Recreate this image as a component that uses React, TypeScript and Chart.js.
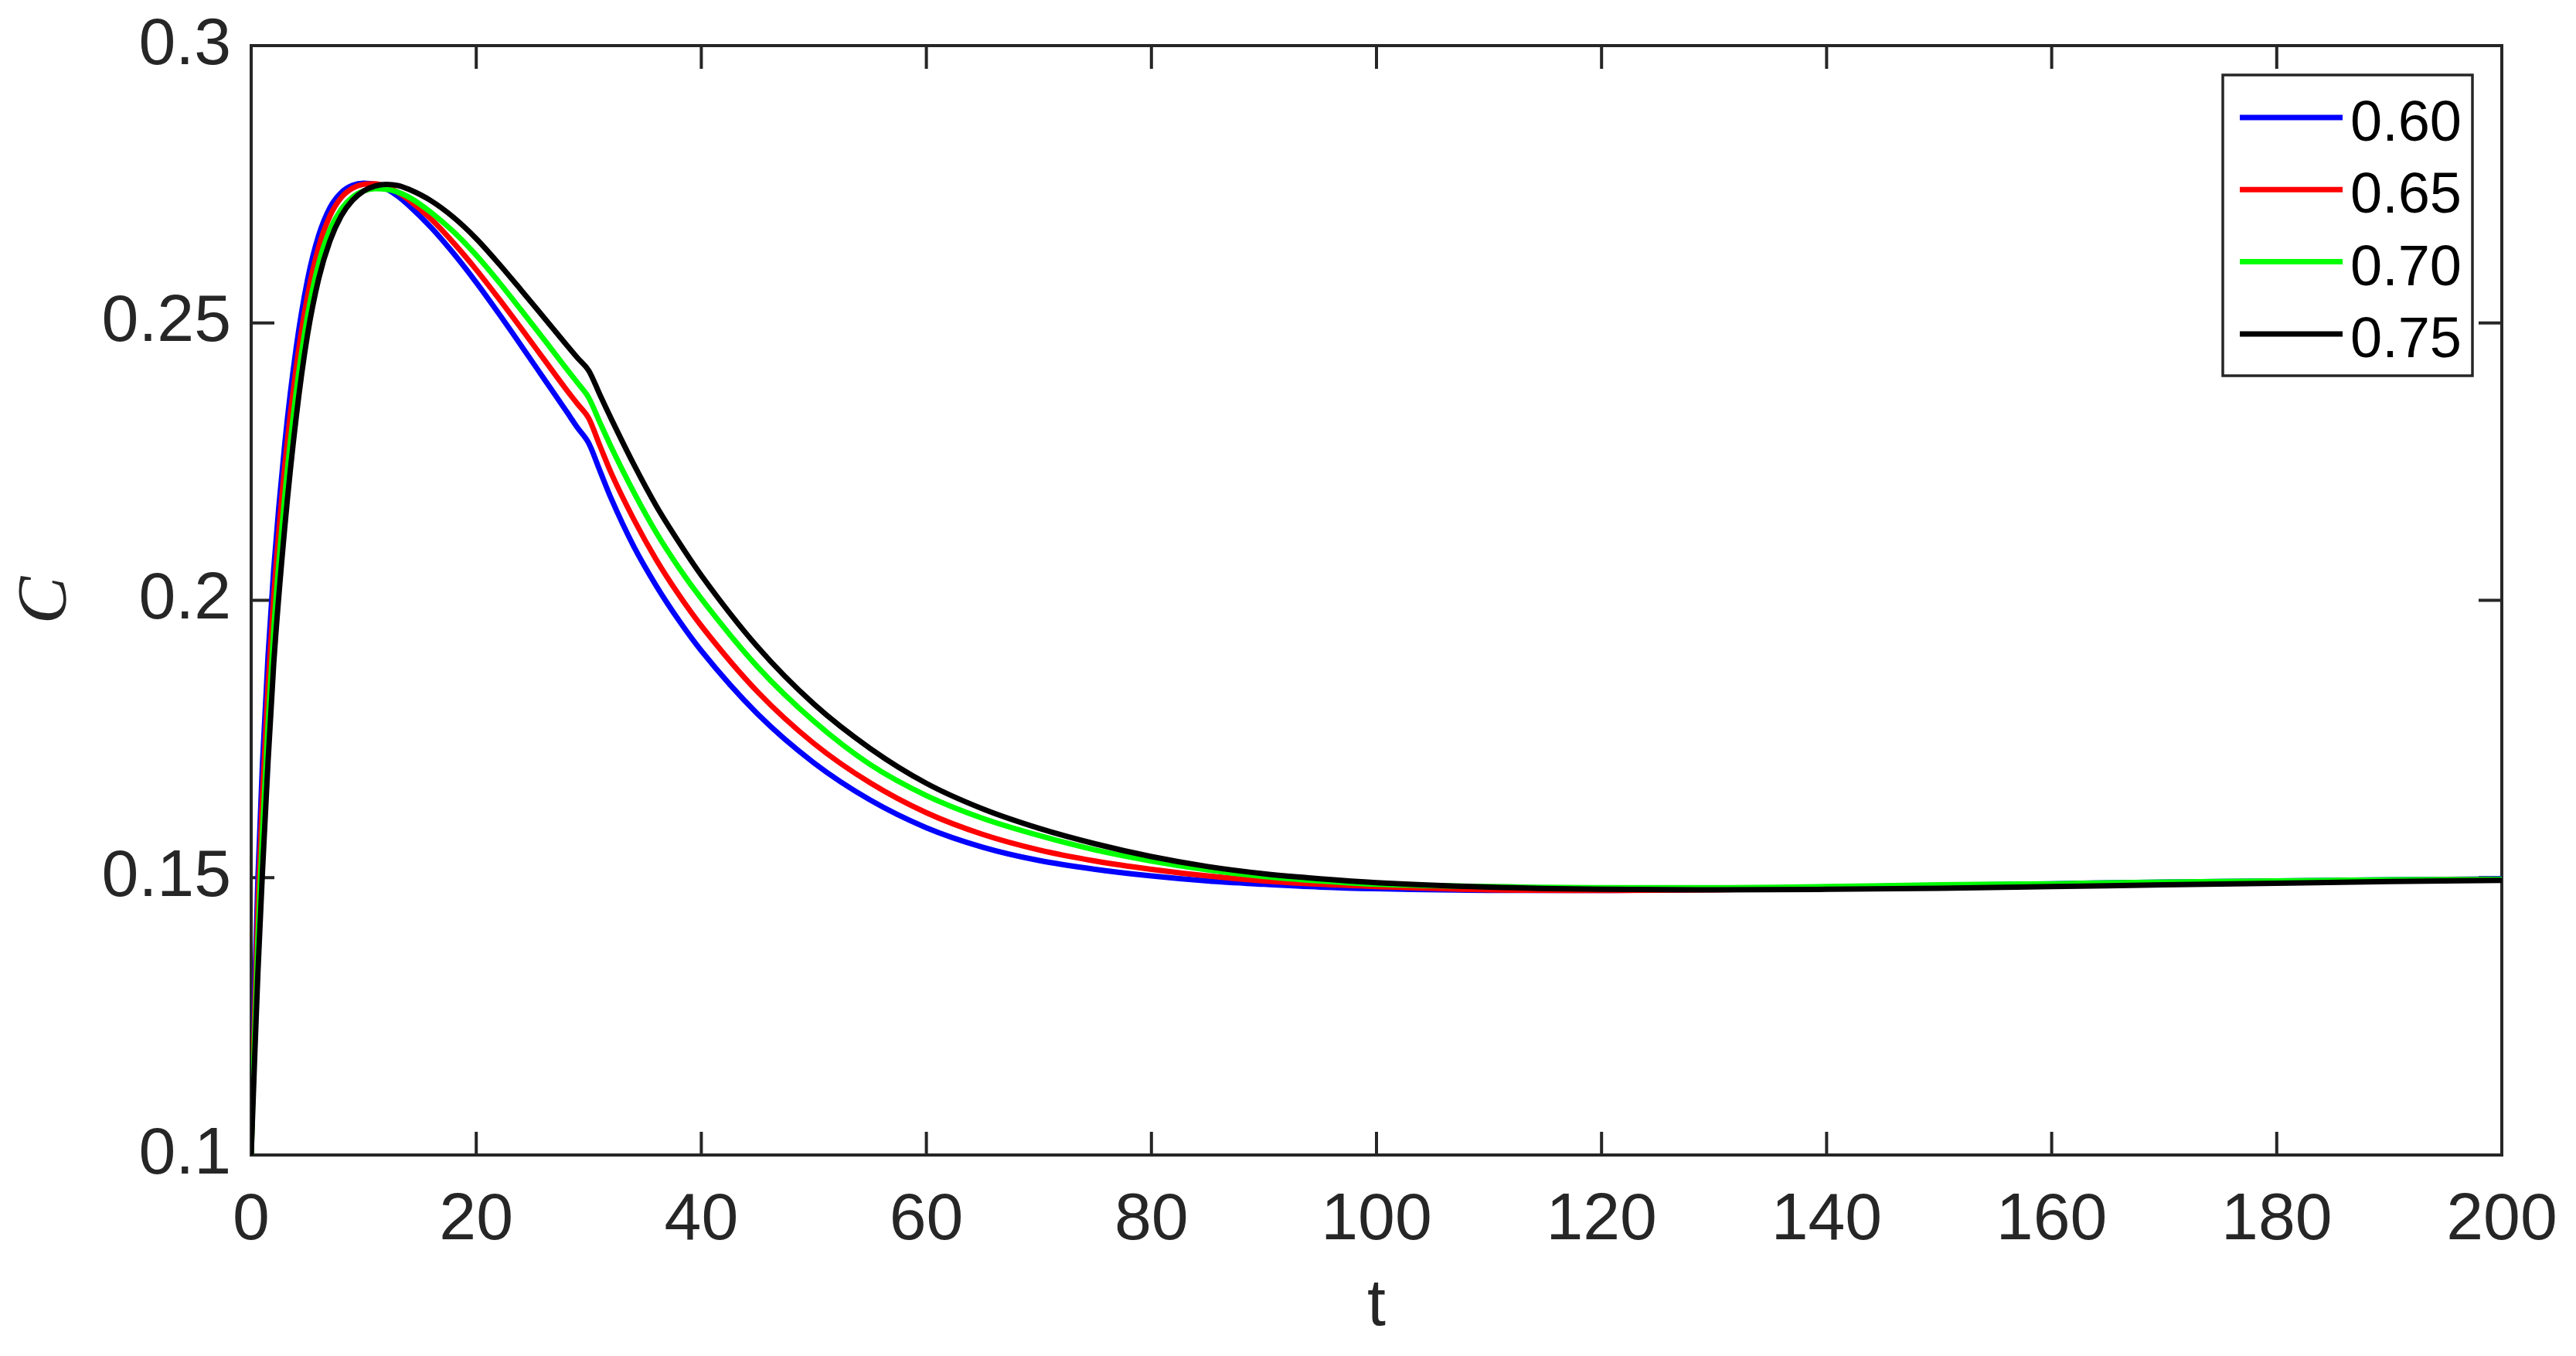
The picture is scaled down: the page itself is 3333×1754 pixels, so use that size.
import React, { useEffect, useRef } from 'react';
import { Chart, registerables } from 'chart.js';

Chart.register(...registerables);

// time samples (t)
const tValues = [
  0, 0.3, 0.6, 1, 1.5, 2, 3, 4, 5, 6, 7, 8, 9, 10, 11, 12, 13, 14, 16, 18, 20, 22, 24, 26, 28, 29, 30,
  31, 32, 34, 36, 38, 40, 45, 50, 55, 60, 65, 70, 75, 80, 85, 90, 95, 100, 110, 120, 130, 140,
  150, 160, 170, 180, 190, 200,
];

const series060 = [
  0.1, 0.129, 0.15, 0.1705, 0.19, 0.2055, 0.2285, 0.2455, 0.2577, 0.2658, 0.2708, 0.2735, 0.2748,
  0.2752, 0.275, 0.2742, 0.2729, 0.2712, 0.2672, 0.2625, 0.2573, 0.2517, 0.2459, 0.24, 0.2341,
  0.2311, 0.2283, 0.2233, 0.2183, 0.2097, 0.2026, 0.1964, 0.1909, 0.1795, 0.1707, 0.164, 0.159,
  0.1555, 0.1531, 0.1515, 0.1503, 0.1494, 0.1488, 0.1483, 0.148, 0.1477, 0.1477, 0.1479,
  0.1483, 0.1486, 0.1489, 0.1492, 0.1494, 0.1496, 0.1498,
];

const series065 = [
  0.1, 0.125, 0.1445, 0.1645, 0.1845, 0.2005, 0.2245, 0.242, 0.2548, 0.2637, 0.2693, 0.2726,
  0.2743, 0.275, 0.2751, 0.2746, 0.2736, 0.2722, 0.2687, 0.2644, 0.2596, 0.2544, 0.249, 0.2435,
  0.238, 0.2354, 0.2328, 0.2278, 0.2229, 0.2146, 0.2073, 0.201, 0.1954, 0.1835, 0.1742, 0.1671,
  0.1617, 0.1578, 0.155, 0.153, 0.1515, 0.1503, 0.1494, 0.1488, 0.1484, 0.1478, 0.1477,
  0.1478, 0.1482, 0.1485, 0.1488, 0.1491, 0.1493, 0.1495, 0.1497,
];

const series070 = [
  0.1, 0.121, 0.139, 0.158, 0.1775, 0.1945, 0.219, 0.2375, 0.2512, 0.2607, 0.2668, 0.2705, 0.2727,
  0.2738, 0.2742, 0.2741, 0.2736, 0.2727, 0.2699, 0.2664, 0.2622, 0.2574, 0.2523, 0.2471, 0.2418,
  0.2392, 0.2365, 0.232, 0.2276, 0.2195, 0.2122, 0.2059, 0.2003, 0.188, 0.1782, 0.1704,
  0.1648, 0.1607, 0.1576, 0.155, 0.153, 0.1514, 0.1502, 0.1494, 0.1488, 0.1484, 0.1482, 0.1482,
  0.1484, 0.1487, 0.1489, 0.1492, 0.1494, 0.1496, 0.1497,
];

const series075 = [
  0.1, 0.117, 0.133, 0.151, 0.171, 0.1885, 0.2135, 0.233, 0.2478, 0.258, 0.2648, 0.2693, 0.2721,
  0.2738, 0.2747, 0.275, 0.2748, 0.2741, 0.272, 0.269, 0.2652, 0.2607, 0.2559, 0.251, 0.2461,
  0.2437, 0.2414, 0.237, 0.2327, 0.2245, 0.217, 0.2105, 0.2045, 0.1916, 0.1813, 0.1733,
  0.167, 0.1624, 0.1589, 0.1561, 0.1538, 0.152, 0.1507, 0.1498, 0.1491, 0.1483, 0.1479, 0.1478,
  0.1479, 0.1481, 0.1484, 0.1487, 0.149, 0.1493, 0.1495,
];

const seriesLabels = ['0.60', '0.65', '0.70', '0.75'];
const seriesColors = ['#0000ff', '#ff0000', '#00ff00', '#000000'];
const allSeries = [series060, series065, series070, series075];

const xTicks = [0, 20, 40, 60, 80, 100, 120, 140, 160, 180, 200];
const xTickLabels = ['0', '20', '40', '60', '80', '100', '120', '140', '160', '180', '200'];
const yTicks = [0.1, 0.15, 0.2, 0.25, 0.3];
const yTickLabels = ['0.1', '0.15', '0.2', '0.25', '0.3'];

const AXIS_COLOR = '#262626';
const SANS = '"Liberation Sans", Arial, Helvetica, sans-serif';

const zeroPadding = (s: any) => {
  s.paddingLeft = 0;
  s.paddingRight = 0;
  s.paddingTop = 0;
  s.paddingBottom = 0;
};

const framePlugin = {
  id: 'matlabFrame',
  beforeDatasetsDraw(chart: any) {
    const { ctx, chartArea, scales } = chart;
    const { left, right, top, bottom } = chartArea;
    const x = scales.x;
    const y = scales.y;
    const tickLen = 30;
    ctx.save();
    ctx.strokeStyle = AXIS_COLOR;
    ctx.lineWidth = 4;
    ctx.beginPath();
    xTicks.forEach((v) => {
      const px = x.getPixelForValue(v);
      ctx.moveTo(px, bottom);
      ctx.lineTo(px, bottom - tickLen);
      ctx.moveTo(px, top);
      ctx.lineTo(px, top + tickLen);
    });
    yTicks.forEach((v) => {
      const py = y.getPixelForValue(v);
      ctx.moveTo(left, py);
      ctx.lineTo(left + tickLen, py);
      ctx.moveTo(right, py);
      ctx.lineTo(right - tickLen, py);
    });
    ctx.stroke();
    ctx.strokeRect(left, top, right - left, bottom - top);
    ctx.restore();
  },
};

const legendPlugin = {
  id: 'matlabLegend',
  afterDraw(chart: any) {
    const { ctx, chartArea } = chart;
    const boxW = 323;
    const boxH = 389;
    const boxRight = chartArea.right - 38;
    const boxTop = chartArea.top + 38;
    const boxLeft = boxRight - boxW;
    ctx.save();
    ctx.fillStyle = '#ffffff';
    ctx.fillRect(boxLeft, boxTop, boxW, boxH);
    ctx.strokeStyle = AXIS_COLOR;
    ctx.lineWidth = 3.5;
    ctx.strokeRect(boxLeft, boxTop, boxW, boxH);
    ctx.font = `74px ${SANS}`;
    ctx.textBaseline = 'alphabetic';
    ctx.textAlign = 'left';
    chart.data.datasets.forEach((ds: any, i: number) => {
      const ly = boxTop + 55 + i * 93.3;
      ctx.strokeStyle = ds.borderColor;
      ctx.lineWidth = 7;
      ctx.beginPath();
      ctx.moveTo(boxLeft + 22, ly);
      ctx.lineTo(boxLeft + 155, ly);
      ctx.stroke();
      ctx.fillStyle = '#000000';
      ctx.fillText(ds.label, boxLeft + 165, ly + 30);
    });
    ctx.restore();
  },
};

export default function App() {
  const canvasRef = useRef<HTMLCanvasElement | null>(null);

  useEffect(() => {
    if (!canvasRef.current) return;
    const datasets = allSeries.map((s, i) => ({
      label: seriesLabels[i],
      data: tValues.map((t, j) => ({ x: t, y: s[j] })),
      borderColor: seriesColors[i],
      backgroundColor: seriesColors[i],
      borderWidth: 7,
      pointRadius: 0,
      fill: false,
      cubicInterpolationMode: 'monotone' as const,
      order: allSeries.length - i,
    }));

    const chart = new Chart(canvasRef.current, {
      type: 'line',
      data: { datasets },
      plugins: [framePlugin, legendPlugin],
      options: {
        animation: false,
        responsive: false,
        devicePixelRatio: 1,
        parsing: false as any,
        layout: { padding: { left: 0, right: 96, top: 59, bottom: 0 } },
        plugins: {
          legend: { display: false },
          tooltip: { enabled: false },
        },
        scales: {
          x: {
            type: 'linear',
            min: 0,
            max: 200,
            afterBuildTicks: (s: any) => {
              s.ticks = xTicks.map((v) => ({ value: v }));
            },
            afterFit: (s: any) => {
              s.height = 260;
              zeroPadding(s);
            },
            ticks: {
              autoSkip: false,
              maxRotation: 0,
              padding: 34,
              color: AXIS_COLOR,
              font: { family: SANS, size: 86 },
              callback: (v: any, i: number) => xTickLabels[i],
            },
            grid: { display: false, drawTicks: false },
            border: { display: false },
            title: {
              display: true,
              text: 't',
              color: AXIS_COLOR,
              font: { family: SANS, size: 86 },
              padding: { top: 0, bottom: 12 },
            },
          },
          y: {
            type: 'linear',
            min: 0.1,
            max: 0.3,
            afterBuildTicks: (s: any) => {
              s.ticks = yTicks.map((v) => ({ value: v }));
            },
            afterFit: (s: any) => {
              s.width = 325;
              zeroPadding(s);
            },
            ticks: {
              autoSkip: false,
              padding: 26,
              color: AXIS_COLOR,
              font: { family: SANS, size: 86 },
              callback: (v: any, i: number) => yTickLabels[i],
            },
            grid: { display: false, drawTicks: false },
            border: { display: false },
            title: {
              display: true,
              text: 'C',
              color: AXIS_COLOR,
              font: { family: '"Liberation Serif", "Times New Roman", serif', size: 92, style: 'italic' },
              padding: { top: 6, bottom: 0 },
            },
          },
        },
      },
    });
    return () => chart.destroy();
  }, []);

  return (
    <div style={{ position: 'absolute', left: 0, top: 0, width: 3333, height: 1754, background: '#ffffff' }}>
      <canvas ref={canvasRef} width={3333} height={1754} style={{ width: 3333, height: 1754, display: 'block' }} />
    </div>
  );
}
